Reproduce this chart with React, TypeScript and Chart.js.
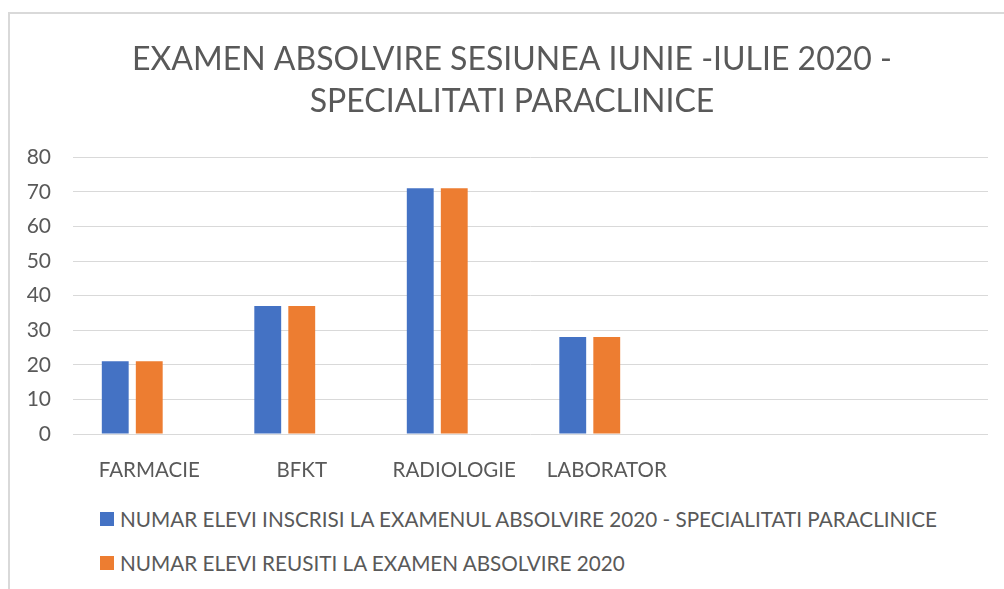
import React, { useEffect, useRef } from "react";
import { Chart, registerables } from "chart.js";

Chart.register(...registerables);

const titleLines = ["EXAMEN ABSOLVIRE SESIUNEA IUNIE -IULIE 2020 -", "SPECIALITATI PARACLINICE"];
const categories = ["FARMACIE", "BFKT", "RADIOLOGIE", "LABORATOR", "", ""];
const seriesInscrisi = [21, 37, 71, 28, null, null];
const seriesReusiti = [21, 37, 71, 28, null, null];
const seriesEmpty = [null, null, null, null, null, null];
const seriesLabels = [
  "NUMAR ELEVI INSCRISI LA EXAMENUL ABSOLVIRE 2020 - SPECIALITATI PARACLINICE",
  "NUMAR ELEVI REUSITI LA EXAMEN ABSOLVIRE 2020",
];
const seriesColors = ["#4472C4", "#ED7D31"];
const yMin = 0;
const yMax = 80;
const yStep = 10;

const FONT = "Lato, 'Open Sans', sans-serif";
const TEXT = "#595959";

export default function App() {
  const ref = useRef<HTMLCanvasElement | null>(null);

  useEffect(() => {
    if (!ref.current) return;
    const chart = new Chart(ref.current, {
      type: "bar",
      data: {
        labels: categories,
        datasets: [
          { label: seriesLabels[0], data: seriesInscrisi, backgroundColor: seriesColors[0] },
          { label: seriesLabels[1], data: seriesReusiti, backgroundColor: seriesColors[1] },
          { label: "", data: seriesEmpty, backgroundColor: "#A5A5A5" },
        ],
      },
      options: {
        responsive: false,
        animation: false,
        layout: { padding: 0 },
        datasets: { bar: { categoryPercentage: 0.669, barPercentage: 0.79 } },
        plugins: {
          legend: { display: false },
          tooltip: { enabled: false },
          title: {
            display: true,
            text: titleLines,
            color: TEXT,
            font: { family: FONT, size: 32, weight: "normal", lineHeight: 1.3 },
            padding: { top: 26, bottom: 35 },
          },
        },
        scales: {
          x: {
            grid: { display: false },
            border: { display: false },
            ticks: { color: TEXT, font: { family: FONT, size: 20.5 }, padding: 16, maxRotation: 0, autoSkip: false },
            afterFit: (s: any) => { s.height = 60; },
          },
          y: {
            min: yMin,
            max: yMax,
            grid: { color: "#D9D9D9", lineWidth: 1, drawTicks: false },
            border: { display: false },
            ticks: { stepSize: yStep, color: TEXT, font: { family: FONT, size: 21 }, padding: 22 },
            afterFit: (s: any) => { s.width = 64; },
          },
          yRight: {
            type: "linear",
            position: "right",
            min: yMin,
            max: yMax,
            grid: { display: false },
            border: { display: false },
            ticks: { display: false },
            afterFit: (s: any) => { s.width = 27; },
          },
        },
      },
    });
    return () => chart.destroy();
  }, []);

  return (
    <div style={{ position: "fixed", left: 0, top: 0, width: 1004, height: 589, overflow: "hidden", background: "#fff" }}>
      <div style={{ position: "absolute", left: 8, top: 12, width: 1100, height: 700, borderLeft: "2px solid #D9D9D9", borderTop: "2px solid #D9D9D9" }} />
      <canvas ref={ref} width={1006} height={481} style={{ position: "absolute", left: 9, top: 13, width: 1006, height: 481 }} />
      {seriesLabels.map((lbl, i) => (
        <div key={i} style={{ position: "absolute", left: 100, top: 519 + i * 44 - 12, height: 24, display: "flex", alignItems: "center", fontFamily: FONT, fontSize: 20.7, color: TEXT, whiteSpace: "nowrap" }}>
          <span style={{ display: "inline-block", width: 14, height: 14, background: seriesColors[i], marginRight: 6 }} />
          <span>{lbl}</span>
        </div>
      ))}
    </div>
  );
}
